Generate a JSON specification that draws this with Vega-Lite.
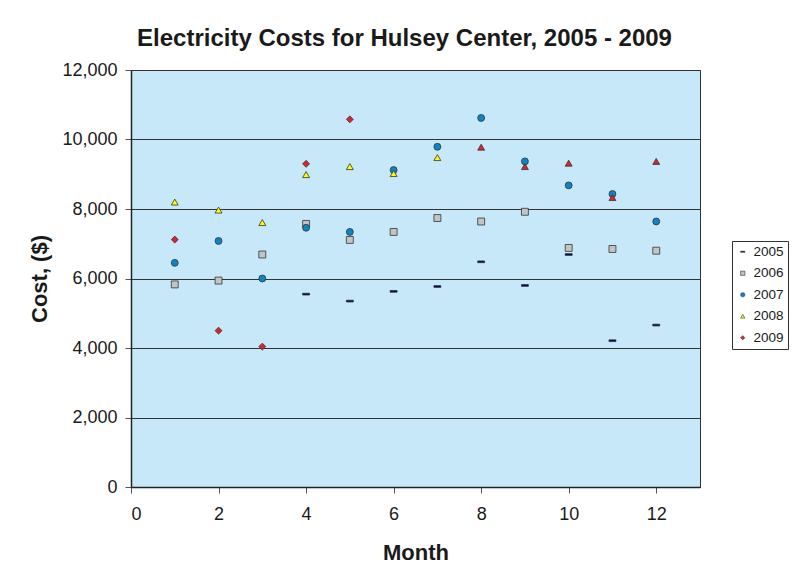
{
  "$schema": "https://vega.github.io/schema/vega-lite/v6.json",
  "width": 569,
  "height": 417,
  "autosize": {"type": "none"},
  "padding": {"left": 131, "top": 70, "right": 97, "bottom": 96},
  "background": "white",
  "title": {
    "text": "Electricity Costs for Hulsey Center, 2005 - 2009",
    "font": "Liberation Sans",
    "fontSize": 24,
    "fontWeight": "bold",
    "color": "#1a1a1a",
    "anchor": "middle",
    "offset": 10,
    "dx": -11
  },
  "config": {
    "view": {"fill": "#c7e8f8", "stroke": "#333333", "strokeWidth": 1}
  },
  "data": {
    "values": [
      {"Month": 4, "Year": "2005", "Cost": 5550},
      {"Month": 5, "Year": "2005", "Cost": 5350},
      {"Month": 6, "Year": "2005", "Cost": 5630},
      {"Month": 7, "Year": "2005", "Cost": 5770},
      {"Month": 8, "Year": "2005", "Cost": 6480},
      {"Month": 9, "Year": "2005", "Cost": 5800},
      {"Month": 10, "Year": "2005", "Cost": 6690},
      {"Month": 11, "Year": "2005", "Cost": 4210},
      {"Month": 12, "Year": "2005", "Cost": 4660},
      {"Month": 1, "Year": "2006", "Cost": 5830},
      {"Month": 2, "Year": "2006", "Cost": 5940},
      {"Month": 3, "Year": "2006", "Cost": 6690},
      {"Month": 4, "Year": "2006", "Cost": 7570},
      {"Month": 5, "Year": "2006", "Cost": 7110},
      {"Month": 6, "Year": "2006", "Cost": 7340},
      {"Month": 7, "Year": "2006", "Cost": 7740},
      {"Month": 8, "Year": "2006", "Cost": 7640},
      {"Month": 9, "Year": "2006", "Cost": 7920},
      {"Month": 10, "Year": "2006", "Cost": 6880},
      {"Month": 11, "Year": "2006", "Cost": 6850},
      {"Month": 12, "Year": "2006", "Cost": 6800},
      {"Month": 1, "Year": "2007", "Cost": 6450},
      {"Month": 2, "Year": "2007", "Cost": 7080},
      {"Month": 3, "Year": "2007", "Cost": 6000},
      {"Month": 4, "Year": "2007", "Cost": 7460},
      {"Month": 5, "Year": "2007", "Cost": 7340},
      {"Month": 6, "Year": "2007", "Cost": 9120},
      {"Month": 7, "Year": "2007", "Cost": 9790},
      {"Month": 8, "Year": "2007", "Cost": 10620},
      {"Month": 9, "Year": "2007", "Cost": 9370},
      {"Month": 10, "Year": "2007", "Cost": 8680},
      {"Month": 11, "Year": "2007", "Cost": 8430},
      {"Month": 12, "Year": "2007", "Cost": 7640},
      {"Month": 1, "Year": "2008", "Cost": 8200},
      {"Month": 2, "Year": "2008", "Cost": 7970},
      {"Month": 3, "Year": "2008", "Cost": 7610},
      {"Month": 4, "Year": "2008", "Cost": 8990},
      {"Month": 5, "Year": "2008", "Cost": 9220},
      {"Month": 6, "Year": "2008", "Cost": 9020},
      {"Month": 7, "Year": "2008", "Cost": 9480},
      {"Month": 8, "Year": "2008", "Cost": 9780},
      {"Month": 9, "Year": "2008", "Cost": 9220},
      {"Month": 10, "Year": "2008", "Cost": 9320},
      {"Month": 11, "Year": "2008", "Cost": 8330},
      {"Month": 12, "Year": "2008", "Cost": 9370},
      {"Month": 1, "Year": "2009", "Cost": 7120},
      {"Month": 2, "Year": "2009", "Cost": 4500},
      {"Month": 3, "Year": "2009", "Cost": 4040},
      {"Month": 4, "Year": "2009", "Cost": 9300},
      {"Month": 5, "Year": "2009", "Cost": 10580}
    ]
  },
  "mark": {"type": "point", "filled": true, "opacity": 1, "strokeWidth": 0.8, "stroke": "#333333", "size": 48},
  "encoding": {
    "x": {
      "field": "Month",
      "type": "quantitative",
      "scale": {"domain": [0, 13], "nice": false, "zero": true},
      "axis": {
        "values": [0, 2, 4, 6, 8, 10, 12],
        "grid": false,
        "title": "Month",
        "titleFont": "Liberation Sans",
        "titleFontSize": 22,
        "titleFontWeight": "bold",
        "titleColor": "#1a1a1a",
        "titlePadding": 19,
        "labelFont": "Liberation Sans",
        "labelFontSize": 18,
        "labelColor": "#1a1a1a",
        "labelPadding": 12,
        "tickSize": 6,
        "tickColor": "#555555",
        "domainColor": "#222222",
        "domainWidth": 1.5
      }
    },
    "y": {
      "field": "Cost",
      "type": "quantitative",
      "scale": {"domain": [0, 12000], "nice": false},
      "axis": {
        "values": [0, 2000, 4000, 6000, 8000, 10000, 12000],
        "format": ",.0f",
        "grid": true,
        "gridColor": "#333333",
        "gridWidth": 1,
        "title": "Cost, ($)",
        "titleFont": "Liberation Sans",
        "titleFontSize": 22,
        "titleFontWeight": "bold",
        "titleColor": "#1a1a1a",
        "titlePadding": 10,
        "labelFont": "Liberation Sans",
        "labelFontSize": 18,
        "labelColor": "#1a1a1a",
        "labelPadding": 8,
        "tickSize": 6,
        "tickColor": "#555555",
        "domainColor": "#222222",
        "domainWidth": 1.5
      }
    },
    "fill": {
      "condition": {"test": "datum.Year == '2008' && datum.Month >= 8", "value": "#e0202a"},
      "field": "Year",
      "type": "nominal",
      "scale": {
        "domain": ["2005", "2006", "2007", "2008", "2009"],
        "range": ["#000066", "#c4c4c4", "#0a86c8", "#ffff00", "#e0202a"]
      },
      "legend": {
        "title": null,
        "orient": "none",
        "legendX": 601,
        "legendY": 171,
        "strokeColor": "#333333",
        "fillColor": "white",
        "padding": 4,
        "labelFont": "Liberation Sans",
        "labelFontSize": 13.5,
        "labelColor": "#1a1a1a",
        "labelOffset": 4,
        "rowPadding": 6.5,
        "symbolSize": 18,
        "symbolStrokeWidth": 0.6
      }
    },
    "shape": {
      "field": "Year",
      "type": "nominal",
      "scale": {
        "domain": ["2005", "2006", "2007", "2008", "2009"],
        "range": ["M-1,-0.25L1,-0.25L1,0.25L-1,0.25Z", "square", "circle", "triangle-up", "diamond"]
      },
      "legend": {"title": null}
    }
  }
}
